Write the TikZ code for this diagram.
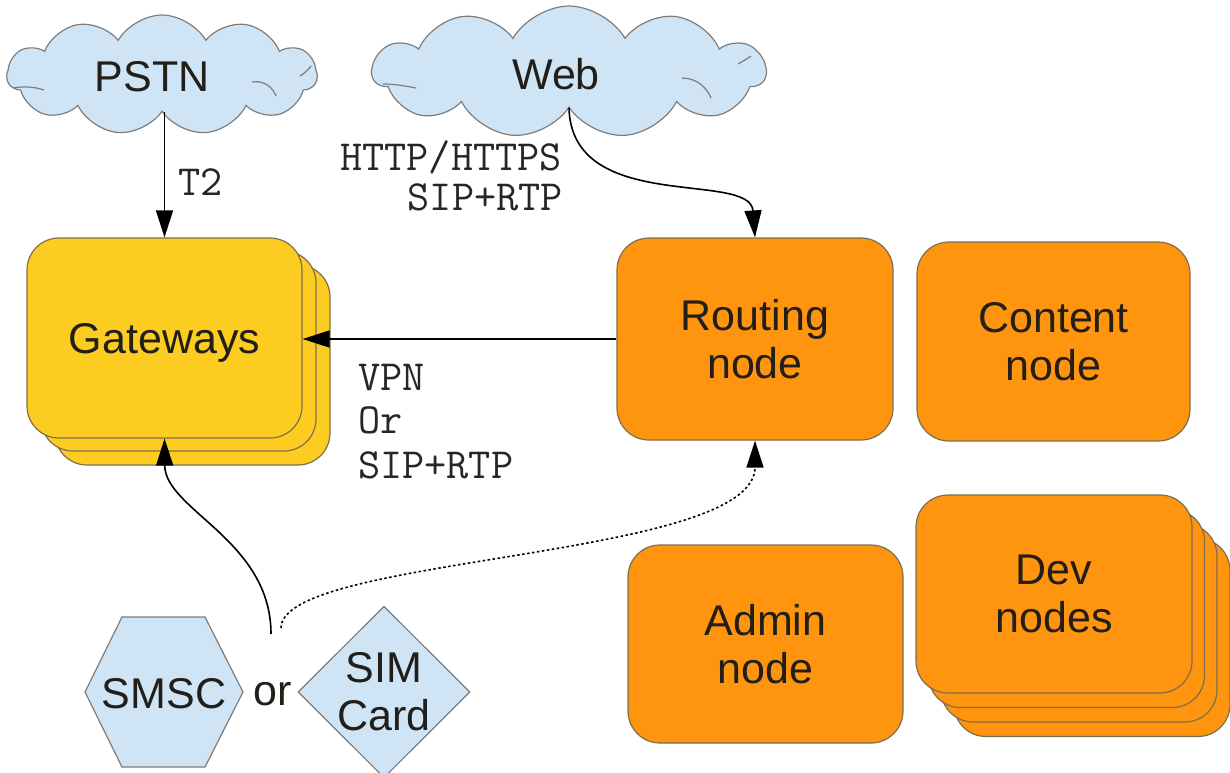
\documentclass[tikz,border=0pt]{standalone}
\usepackage{fontspec}
\setmainfont{Liberation Sans}
\usetikzlibrary{shapes.symbols,shapes.geometric,arrows.meta}
\definecolor{cloudblue}{RGB}{207,228,244}
\definecolor{edgegray}{RGB}{125,125,125}
\definecolor{gwyellow}{RGB}{252,205,32}
\definecolor{nodeorange}{RGB}{255,149,14}
\definecolor{boxedge}{RGB}{125,110,80}
\definecolor{txt}{RGB}{34,30,25}
\tikzset{
  bigtext/.style={font=\fontsize{43}{48}\selectfont, text=txt, align=center},
  monotext/.style={font=\ttfamily\fontsize{43}{48}\selectfont, text=black!85, inner sep=0pt},
  cloudnode/.style={shape=cloud, cloud puffs=11, cloud puff arc=120, cloud ignores aspect,
    draw=edgegray, fill=cloudblue, line width=1.2pt, inner sep=0pt, bigtext},
  cloudline/.style={draw=edgegray, line width=1.2pt},
  gwbox/.style={draw=boxedge, fill=gwyellow, line width=1.2pt, rounded corners=32pt,
    minimum width=275pt, minimum height=200pt, inner sep=0pt, bigtext},
  orbox/.style={draw=boxedge, fill=nodeorange, line width=1.2pt, rounded corners=32pt,
    minimum width=275pt, minimum height=199pt, inner sep=0pt, bigtext},
  arr/.style={draw=black, line width=1.6pt, -{Triangle[length=27pt,width=17pt]}},
  shapeblue/.style={draw=edgegray, fill=cloudblue, line width=1.2pt}
}
\begin{document}
\begin{tikzpicture}[x=1pt,y=-1pt]
\useasboundingbox (0,0) rectangle (1230,772);
% clouds
\node[cloudnode, minimum width=310pt, minimum height=120pt] (pstn) at (162,75) {};
\draw[cloudline] (13,88) .. controls (25,86) and (35,87) .. (44,90);
\draw[cloudline] (252,82) .. controls (265,80) and (273,88) .. (276,96);
\draw[cloudline] (300,76) .. controls (305,73) and (308,70) .. (311,66);
\node[bigtext] (pstnlbl) at (152,77) {PSTN};
\node[cloudnode, minimum width=393pt, minimum height=132pt] (web) at (569,72) {};
\draw[cloudline] (383,84) .. controls (395,84) and (405,86) .. (416,88);
\draw[cloudline] (682,78) .. controls (697,78) and (707,88) .. (711,98);
\draw[cloudline] (738,64) .. controls (743,61) and (747,59) .. (751,56);
\node[bigtext] (weblbl) at (556,74) {Web};
% gateways stack
\node[gwbox] (gw3) at (192.5,365) {};
\node[gwbox] (gw2) at (178.5,351) {};
\node[gwbox, text depth=0pt] (gw) at (164.5,338) {Gateways};
% orange nodes
\node[orbox, minimum width=276pt, minimum height=202pt] (rt) at (755,339) {Routing\\node};
\node[orbox, minimum width=273pt] (ct) at (1053.5,341.5) {Content\\node};
\node[orbox, minimum height=198pt] (ad) at (765.5,644) {Admin\\node};
\node[orbox, minimum width=276pt, minimum height=198pt] (dev4) at (1092,637.5) {};
\node[orbox, minimum width=276pt, minimum height=198pt] (dev3) at (1079,623) {};
\node[orbox, minimum width=276pt, minimum height=198pt] (dev2) at (1066.5,608.5) {};
\node[orbox, minimum width=276pt, minimum height=198pt] (dev) at (1054,594) {Dev\\nodes};
% hexagon and diamond
\draw[shapeblue] (85,692) -- (122,617) -- (205,617) -- (243,692) -- (205,767) -- (122,767) -- cycle;
\node[bigtext] (smsc) at (164,694) {SMSC};
\node[bigtext] (or) at (273,694) {or};
\node[shape=diamond, shapeblue, minimum width=172pt, minimum height=170pt, inner sep=0pt, bigtext] (sim) at (384,692) {SIM\\Card};
% connectors
\coordinate (c1) at (271,634);
\coordinate (c2) at (281,628);
\draw[arr] (pstn.south -| gw.north) -- (gw.north);
\draw[arr] (web.south) .. controls (572,215) and (750,170) .. (rt.north);
\draw[arr] (rt.west) -- (rt.west -| gw.east);
\draw[arr] (c1) .. controls (271,540) and (165,510) .. (gw.south);
\draw[arr, dash pattern=on 2.5pt off 2.5pt] (c2) .. controls (281,555) and (755,560) .. (rt.south);
% labels
\node[monotext, anchor=base west] (t2) at (178,195) {T2};
\node[monotext, anchor=base east] (http) at (562,170) {HTTP/HTTPS};
\node[monotext, anchor=base east] (sip1) at (563,210) {SIP+RTP};
\node[monotext, anchor=base west] (vpn) at (358,390) {VPN};
\node[monotext, anchor=base west] (ortxt) at (358,433) {Or};
\node[monotext, anchor=base west] (sip2) at (358,478) {SIP+RTP};
\end{tikzpicture}
\end{document}
